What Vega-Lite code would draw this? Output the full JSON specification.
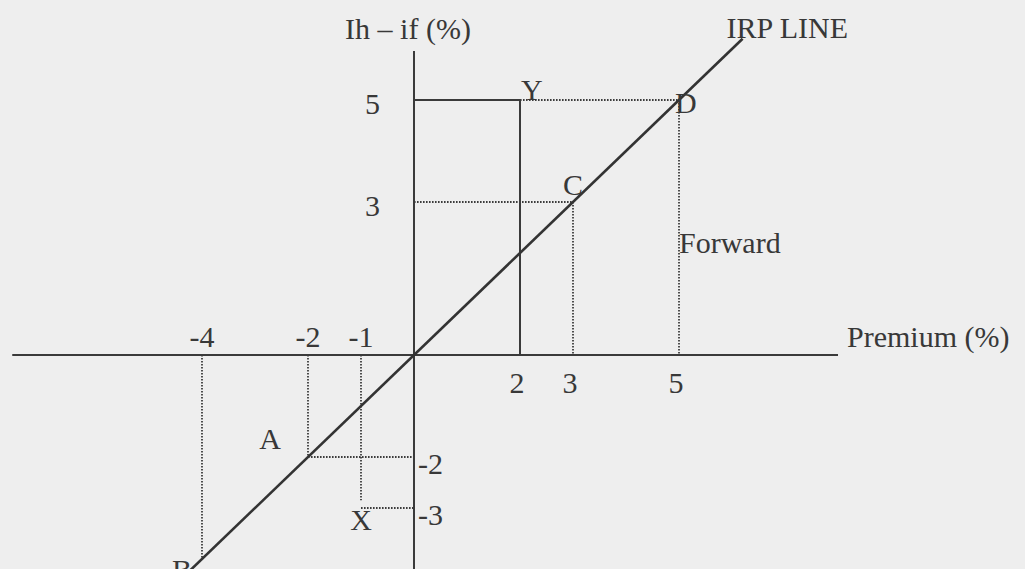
{
  "$schema": "https://vega.github.io/schema/vega-lite/v6.json",
  "width": 1025,
  "height": 569,
  "autosize": "none",
  "padding": 0,
  "background": "#eeeeee",
  "usermeta": {"embedOptions": {"actions": false}},
  "config": {
    "view": {"stroke": null},
    "text": {"font": "Liberation Serif", "fontSize": 30, "color": "#383838", "baseline": "alphabetic"}
  },
  "datasets": {
    "axes": [
      {"x": -7.58, "y": 0, "x2": 8.0, "y2": 0},
      {"x": 0, "y": 5.96, "x2": 0, "y2": -4.6}
    ],
    "box": [
      {"x": 0, "y": 5, "x2": 2, "y2": 5},
      {"x": 2, "y": 5, "x2": 2, "y2": 0}
    ],
    "irp": [
      {"x": -4.6, "y": -4.6, "x2": 6.2, "y2": 6.2}
    ],
    "guides": [
      {"x": 2, "y": 5, "x2": 5, "y2": 5},
      {"x": 5, "y": 5, "x2": 5, "y2": 0},
      {"x": 0, "y": 3, "x2": 3, "y2": 3},
      {"x": 3, "y": 3, "x2": 3, "y2": 0},
      {"x": -4, "y": 0, "x2": -4, "y2": -4},
      {"x": -2, "y": 0, "x2": -2, "y2": -2},
      {"x": -2, "y": -2, "x2": 0, "y2": -2},
      {"x": -1, "y": 0, "x2": -1, "y2": -2.85},
      {"x": -1, "y": -3, "x2": 0, "y2": -3}
    ],
    "ticks": [
      {"x": -4, "y": 0, "label": "-4"},
      {"x": -2, "y": 0, "label": "-2"},
      {"x": -1, "y": 0, "label": "-1"},
      {"x": 2, "y": 0, "label": "2"},
      {"x": 3, "y": 0, "label": "3"},
      {"x": 5, "y": 0, "label": "5"},
      {"x": 0, "y": 5, "label": "5"},
      {"x": 0, "y": 3, "label": "3"},
      {"x": 0, "y": -2, "label": "-2"},
      {"x": 0, "y": -3, "label": "-3"}
    ],
    "points": [
      {"label": "Y", "x": 2, "y": 5},
      {"label": "D", "x": 5, "y": 5},
      {"label": "C", "x": 3, "y": 3},
      {"label": "A", "x": -2, "y": -2},
      {"label": "X", "x": -1, "y": -3},
      {"label": "B", "x": -4, "y": -4}
    ],
    "notes": [
      {"label": "Ih – if (%)", "x": 0, "y": 5.96},
      {"label": "Premium (%)", "x": 8.0, "y": 0},
      {"label": "IRP LINE", "x": 6.2, "y": 6.2},
      {"label": "Forward", "x": 5, "y": 2}
    ]
  },
  "encoding": {
    "x": {"field": "x", "type": "quantitative", "axis": null,
          "scale": {"domain": [-7.811, 11.528], "nice": false, "zero": false}},
    "y": {"field": "y", "type": "quantitative", "axis": null,
          "scale": {"domain": [-4.196, 6.961], "nice": false, "zero": false}}
  },
  "layer": [
    {
      "data": {"name": "guides"},
      "mark": {"type": "rule", "clip": true, "color": "#3c3c3c", "strokeWidth": 1.8, "strokeDash": [1.6, 1.4]},
      "encoding": {"x2": {"field": "x2"}, "y2": {"field": "y2"}}
    },
    {
      "data": {"name": "axes"},
      "mark": {"type": "rule", "clip": true, "color": "#3a3a3a", "strokeWidth": 2},
      "encoding": {"x2": {"field": "x2"}, "y2": {"field": "y2"}}
    },
    {
      "data": {"name": "box"},
      "mark": {"type": "rule", "clip": true, "color": "#3a3a3a", "strokeWidth": 2},
      "encoding": {"x2": {"field": "x2"}, "y2": {"field": "y2"}}
    },
    {
      "data": {"name": "irp"},
      "mark": {"type": "rule", "clip": true, "color": "#333333", "strokeWidth": 2.6},
      "encoding": {"x2": {"field": "x2"}, "y2": {"field": "y2"}}
    },
    {
      "data": {"name": "ticks"},
      "transform": [{"filter": "datum.y == 0 && datum.x < 0"}],
      "mark": {"type": "text", "clip": true, "align": "center", "dy": -8},
      "encoding": {"text": {"field": "label"}}
    },
    {
      "data": {"name": "ticks"},
      "transform": [{"filter": "datum.y == 0 && datum.x > 0"}],
      "mark": {"type": "text", "clip": true, "align": "center", "dx": -3, "dy": 38},
      "encoding": {"text": {"field": "label"}}
    },
    {
      "data": {"name": "ticks"},
      "transform": [{"filter": "datum.x == 0 && datum.y > 0"}],
      "mark": {"type": "text", "clip": true, "align": "right", "dx": -34, "dy": 14},
      "encoding": {"text": {"field": "label"}}
    },
    {
      "data": {"name": "ticks"},
      "transform": [{"filter": "datum.x == 0 && datum.y < 0"}],
      "mark": {"type": "text", "clip": true, "align": "left", "dx": 4, "dy": 17},
      "encoding": {"text": {"field": "label"}}
    },
    {
      "data": {"name": "points"},
      "transform": [{"filter": "datum.label == 'Y'"}],
      "mark": {"type": "text", "clip": true, "align": "left", "dx": 1, "dy": 0},
      "encoding": {"text": {"field": "label"}}
    },
    {
      "data": {"name": "points"},
      "transform": [{"filter": "datum.label == 'D'"}],
      "mark": {"type": "text", "clip": true, "align": "left", "dx": -4, "dy": 13},
      "encoding": {"text": {"field": "label"}}
    },
    {
      "data": {"name": "points"},
      "transform": [{"filter": "datum.label == 'C'"}],
      "mark": {"type": "text", "clip": true, "align": "center", "dx": 0, "dy": -7},
      "encoding": {"text": {"field": "label"}}
    },
    {
      "data": {"name": "points"},
      "transform": [{"filter": "datum.label == 'A'"}],
      "mark": {"type": "text", "clip": true, "align": "center", "dx": -38, "dy": -8},
      "encoding": {"text": {"field": "label"}}
    },
    {
      "data": {"name": "points"},
      "transform": [{"filter": "datum.label == 'X'"}],
      "mark": {"type": "text", "clip": true, "align": "center", "dx": 0, "dy": 22},
      "encoding": {"text": {"field": "label"}}
    },
    {
      "data": {"name": "points"},
      "transform": [{"filter": "datum.label == 'B'"}],
      "mark": {"type": "text", "clip": true, "align": "center", "dx": -20, "dy": 21},
      "encoding": {"text": {"field": "label"}}
    },
    {
      "data": {"name": "notes"},
      "transform": [{"filter": "datum.label == 'Ih – if (%)'"}],
      "mark": {"type": "text", "clip": true, "align": "center", "dx": -6, "dy": -12},
      "encoding": {"text": {"field": "label"}}
    },
    {
      "data": {"name": "notes"},
      "transform": [{"filter": "datum.label == 'Premium (%)'"}],
      "mark": {"type": "text", "clip": true, "align": "left", "dx": 9, "dy": -8},
      "encoding": {"text": {"field": "label"}}
    },
    {
      "data": {"name": "notes"},
      "transform": [{"filter": "datum.label == 'IRP LINE'"}],
      "mark": {"type": "text", "clip": true, "align": "left", "dx": -16, "dy": -1},
      "encoding": {"text": {"field": "label"}}
    },
    {
      "data": {"name": "notes"},
      "transform": [{"filter": "datum.label == 'Forward'"}],
      "mark": {"type": "text", "clip": true, "align": "left", "dx": 0, "dy": 0},
      "encoding": {"text": {"field": "label"}}
    }
  ]
}
